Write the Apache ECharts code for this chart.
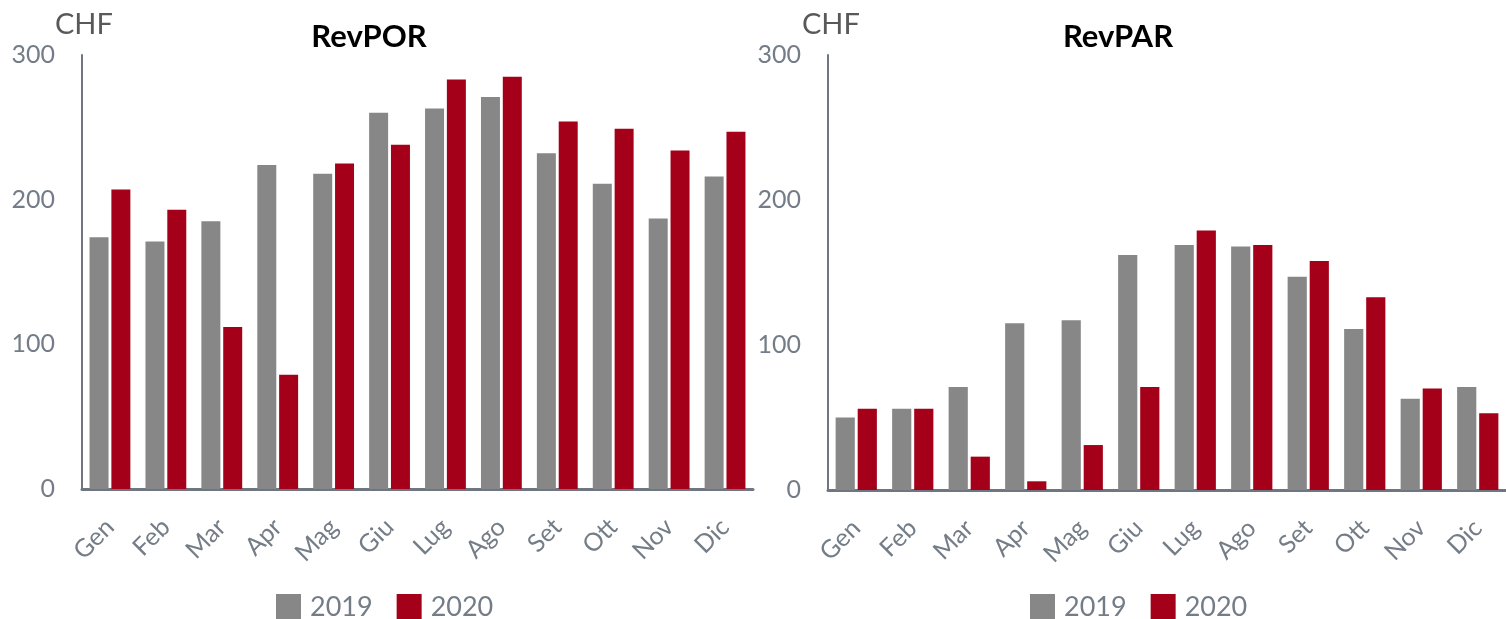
<!DOCTYPE html>
<html>
<head>
<meta charset="utf-8">
<script src="https://cdn.jsdelivr.net/npm/echarts@6/dist/echarts.min.js"></script>
<style>
html,body{margin:0;padding:0;background:#fff;}
#c{width:1506px;height:619px;}
</style>
</head>
<body>
<div id="c"></div>
<script>
const months = ['Gen','Feb','Mar','Apr','Mag','Giu','Lug','Ago','Set','Ott','Nov','Dic'];
const seriesNames = ['2019','2020'];
const revpor2019 = [174,171,185,224,218,260,263,271,232,211,187,216];
const revpor2020 = [207,193,112,79,225,238,283,285,254,249,234,247];
const revpar2019 = [50,56,71,115,117,162,169,168,147,111,63,71];
const revpar2020 = [56,56,23,6,31,71,179,169,158,133,70,53];
const yTicks = [0,100,200,300];

const GRAY = '#878787', RED = '#A50019', AXIS = '#6e7781', LBL = '#747d87';
const FONT = 'Lato';

const chart = echarts.init(document.getElementById('c'), null, {renderer:'canvas'});

function xAx(gi){
  return {type:'category', gridIndex:gi, data:months,
    axisLine:{show:true, lineStyle:{color:AXIS, width:3}},
    axisTick:{show:false},
    axisLabel:{rotate:45, fontSize:25, color:LBL, fontFamily:FONT, margin:34, interval:0}};
}
function yAx(gi){
  return {type:'value', gridIndex:gi, min:yTicks[0], max:yTicks[yTicks.length-1], interval:100,
    splitLine:{show:false},
    axisLine:{show:true, lineStyle:{color:AXIS, width:2}},
    axisTick:{show:false},
    axisLabel:{fontSize:25, color:LBL, fontFamily:FONT, margin:27}};
}
function bar(name, data, gi, color){
  return {name:name, type:'bar', xAxisIndex:gi, yAxisIndex:gi, data:data,
    itemStyle:{color:color}, barGap:'15%', barCategoryGap:'27%', animation:false};
}

chart.setOption({
  animation:false,
  textStyle:{fontFamily:FONT},
  title:[
    {text:'RevPOR', left:364, top:16, textAlign:'center', textStyle:{fontSize:31, fontWeight:'bold', color:'#000', fontFamily:FONT}},
    {text:'RevPAR', left:1113, top:16, textAlign:'center', textStyle:{fontSize:31, fontWeight:'bold', color:'#000', fontFamily:FONT}},
    {text:'CHF', left:50, top:5, textStyle:{fontSize:29, fontWeight:'normal', color:'#595959', fontFamily:FONT}},
    {text:'CHF', left:797, top:5, textStyle:{fontSize:29, fontWeight:'normal', color:'#595959', fontFamily:FONT}}
  ],
  grid:[
    {left:82, top:55, width:671, height:434},
    {left:828, top:55, width:686, height:435}
  ],
  legend:[
    {data:seriesNames, left:276, top:594, padding:0, itemWidth:25, itemHeight:27, itemGap:24, icon:'rect',
     textStyle:{fontSize:27, color:LBL, fontFamily:FONT, padding:[0,0,0,4]}},
    {data:seriesNames, left:1030, top:594, padding:0, itemWidth:25, itemHeight:27, itemGap:24, icon:'rect',
     textStyle:{fontSize:27, color:LBL, fontFamily:FONT, padding:[0,0,0,4]}}
  ],
  xAxis:[xAx(0), xAx(1)],
  yAxis:[yAx(0), yAx(1)],
  series:[
    bar(seriesNames[0], revpor2019, 0, GRAY),
    bar(seriesNames[1], revpor2020, 0, RED),
    bar(seriesNames[0], revpar2019, 1, GRAY),
    bar(seriesNames[1], revpar2020, 1, RED)
  ]
});
</script>
</body>
</html>
